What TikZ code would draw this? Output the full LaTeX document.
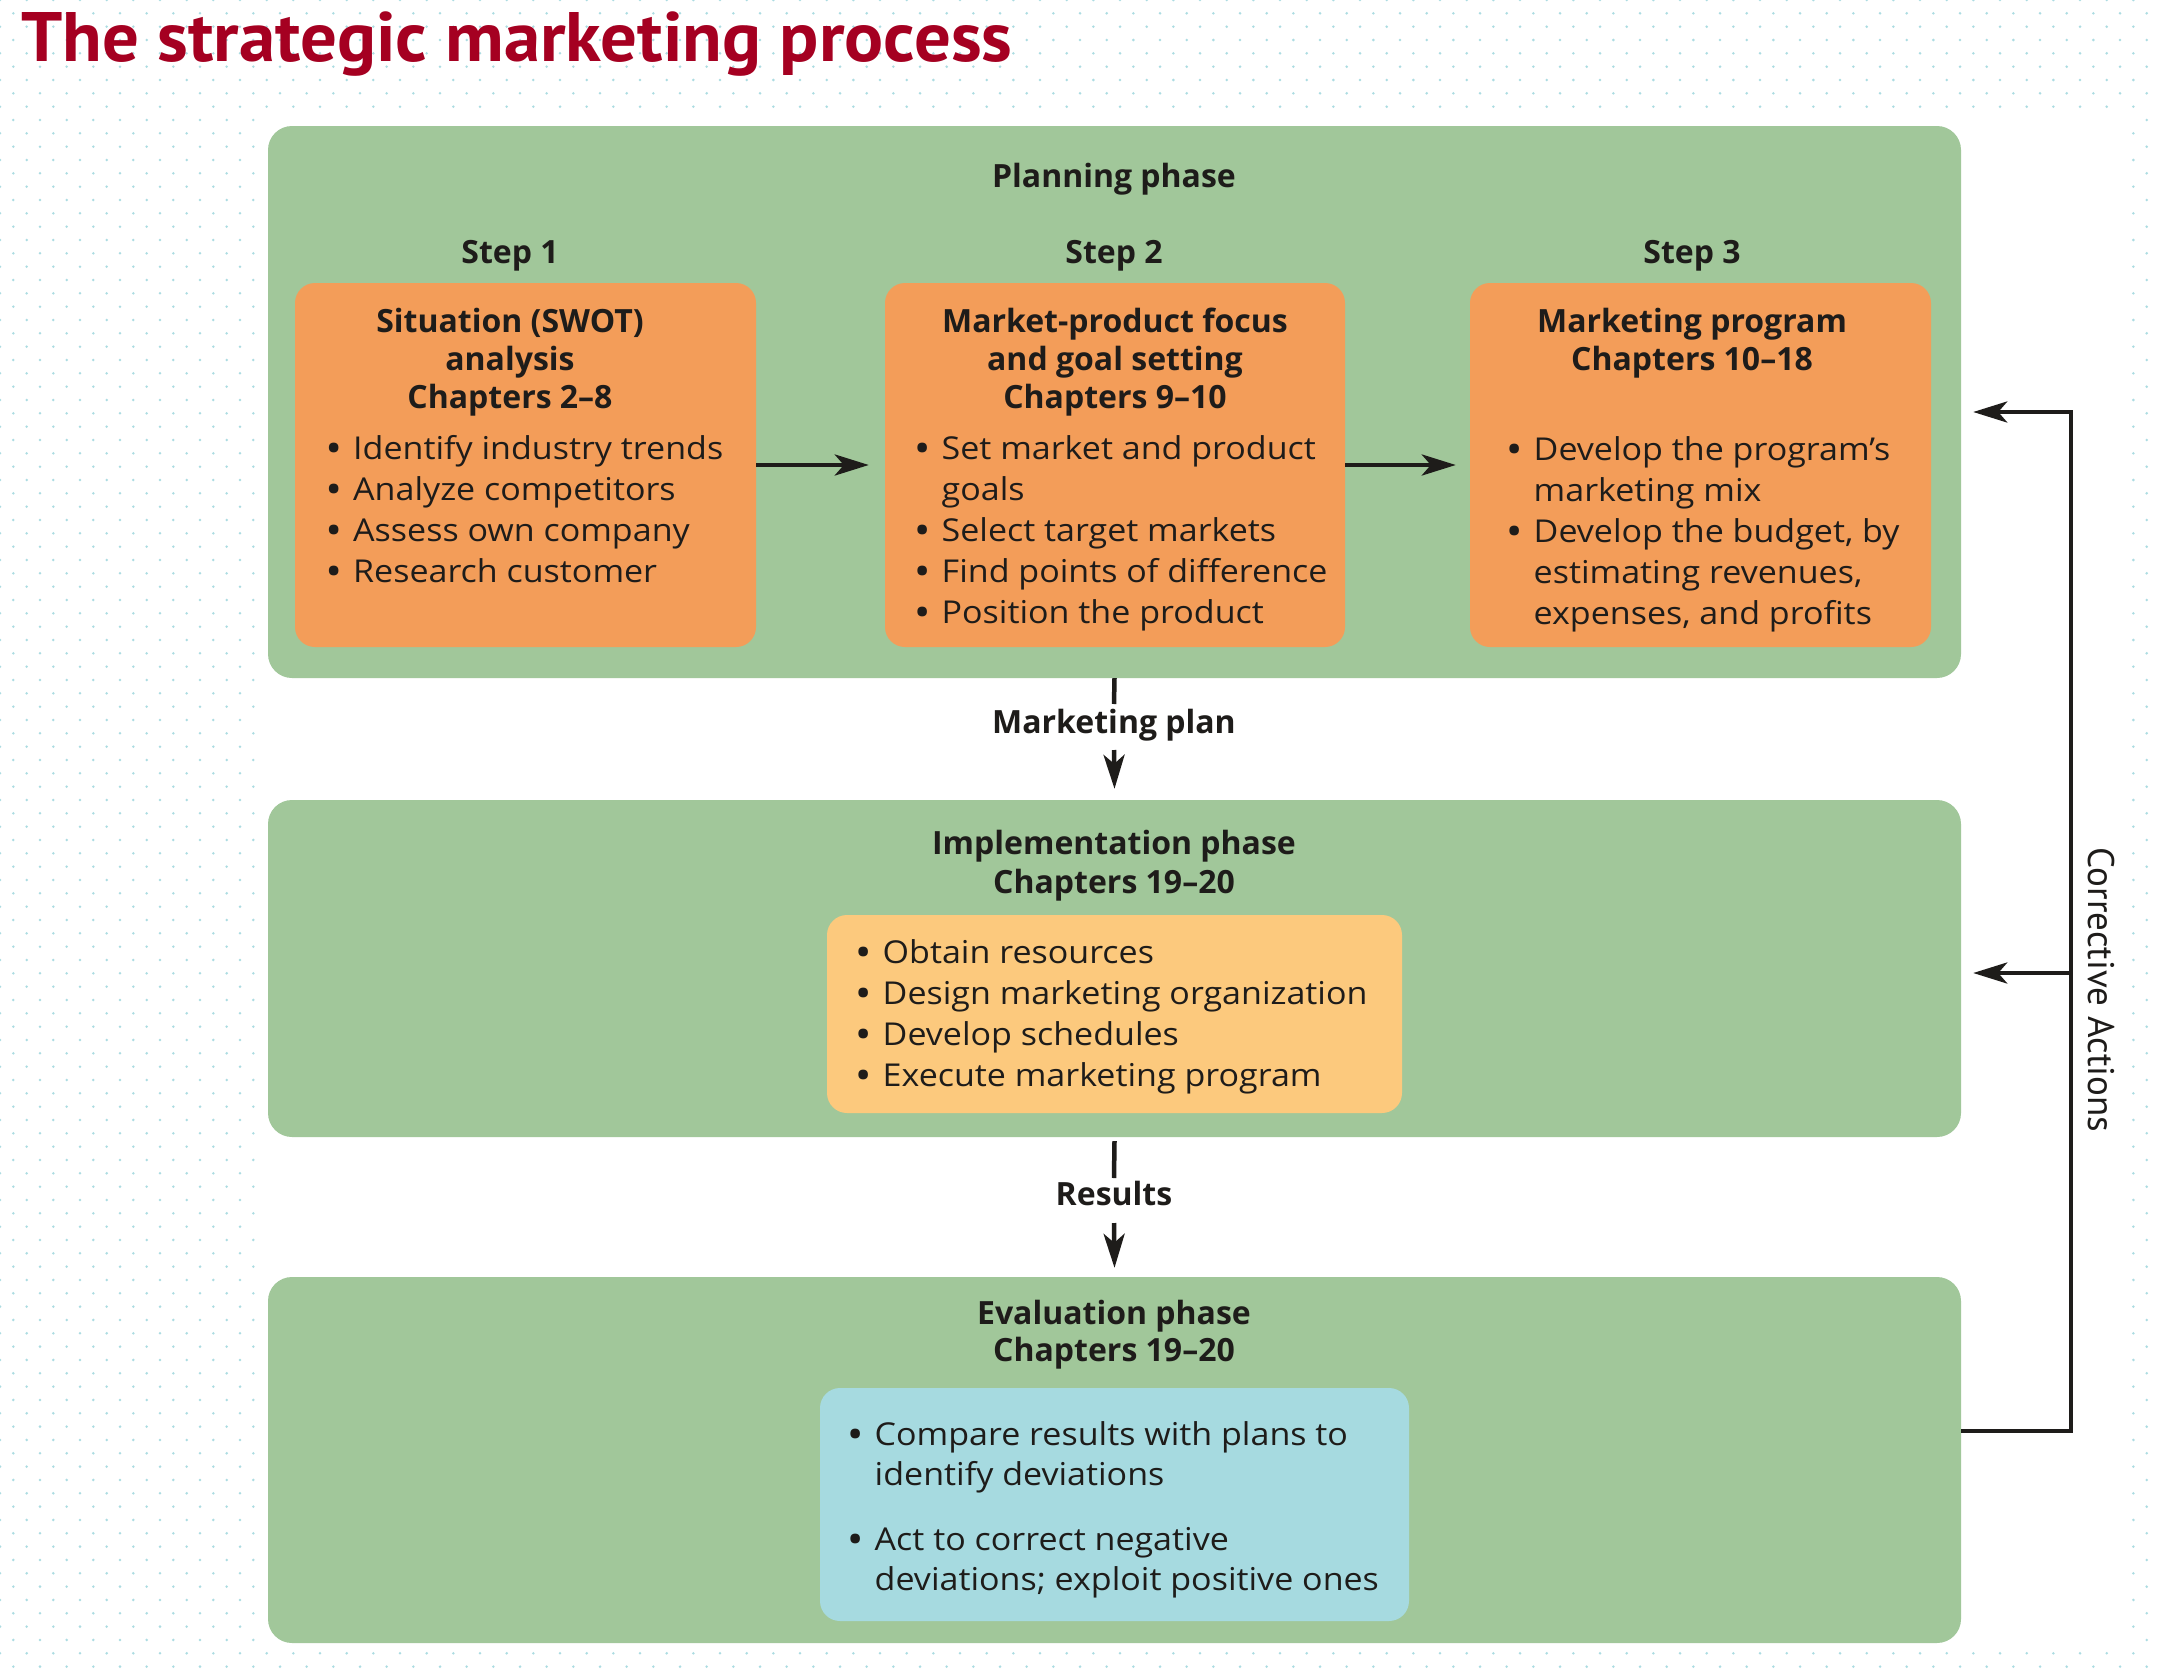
\documentclass[tikz,border=0pt]{standalone}
\usepackage{fontspec}
\usepackage{graphicx}
\usetikzlibrary{arrows.meta,calc}
\setmainfont{Open Sans}[FakeStretch=1.08]
\newfontfamily\hfont{Open Sans}
\newfontfamily\tfont{PT Sans}
\definecolor{gbox}{RGB}{161,199,154}
\definecolor{obox}{RGB}{243,157,89}
\definecolor{ybox}{RGB}{252,201,125}
\definecolor{bbox}{RGB}{166,218,224}
\definecolor{ttl}{RGB}{165,0,33}
\definecolor{ink}{RGB}{30,28,26}
\definecolor{dotc}{RGB}{172,220,226}
\newcommand\bodyf{\fontsize{31.5}{41}\selectfont}
\newcommand\headf{\hfont\bfseries\fontsize{32}{38}\selectfont}
\newcommand\bul{\makebox[39pt]{\bfseries\textbullet}}
\newcommand\hang{\hspace*{39pt}}
\tikzset{
  panel/.style={fill=gbox, rounded corners=24pt, inner sep=0pt, draw=none},
  inbox/.style={rounded corners=20pt, inner sep=0pt, draw=none},
  head/.style={anchor=base, inner sep=0pt, text=ink, font=\headf},
  body/.style={anchor=base west, inner sep=0pt, text=ink, font=\bodyf},
  conn/.style={draw=ink, line width=4.5pt, line join=miter},
  arr/.style={conn, -{Stealth[length=34pt,width=21pt,inset=9pt]}},
  dot/.style={fill=dotc}
}
\begin{document}
\begin{tikzpicture}[x=1pt,y=-1pt]
\useasboundingbox (0,0) rectangle (2160,1678);
\fill[white] (0,0) rectangle (2160,1678);
% dotted margins
\foreach \j in {0,...,8}{\foreach \i in {0,...,80}{\fill[dot] ({26.667*\i+13.333*mod(\j,2)},{13.333*\j}) circle (1.4pt);}}
\foreach \j in {124,...,126}{\foreach \i in {0,...,80}{\fill[dot] ({26.667*\i+13.333*mod(\j,2)},{13.333*\j}) circle (1.4pt);}}
\foreach \j in {9,...,123}{\foreach \i in {0,...,9,80}{\fill[dot] ({26.667*\i+13.333*mod(\j,2)},{13.333*\j}) circle (1.4pt);}}

% title
\node[anchor=base west, inner sep=0pt, text=ttl, font=\tfont\bfseries\fontsize{70}{80}\selectfont] (title) at (21,62) {\scalebox{1.04}[1]{The strategic marketing process}};

% phase panels
\node[panel, minimum width=1693pt, minimum height=552pt] (plan) at (1114.5,402) {};
\node[panel, minimum width=1693pt, minimum height=337pt] (impl) at (1114.5,968.5) {};
\node[panel, minimum width=1693pt, minimum height=366pt] (eval) at (1114.5,1460) {};

% inner boxes
\node[inbox, fill=obox, minimum width=461pt, minimum height=364pt] (o1) at (525.5,465) {};
\node[inbox, fill=obox, minimum width=460pt, minimum height=364pt] (o2) at (1115,465) {};
\node[inbox, fill=obox, minimum width=461pt, minimum height=364pt] (o3) at (1700.5,465) {};
\node[inbox, fill=ybox, minimum width=575pt, minimum height=198pt] (yel) at (1114.5,1014) {};
\node[inbox, fill=bbox, minimum width=589pt, minimum height=233pt] (blu) at (1114.5,1504.5) {};

% headings
\node[head] (ph1) at (1114,187) {Planning phase};
\node[head] (s1) at (510,263) {Step 1};
\node[head] (s2) at (1114,263) {Step 2};
\node[head] (s3) at (1692,263) {Step 3};
\node[head] (h1) at (510,332) {\begin{tabular}[t]{@{}c@{}}Situation (SWOT)\\analysis\\Chapters 2–8\end{tabular}};
\node[head] (h2) at (1115,332) {\begin{tabular}[t]{@{}c@{}}Market-product focus\\and goal setting\\Chapters 9–10\end{tabular}};
\node[head] (h3) at (1692,332) {\begin{tabular}[t]{@{}c@{}}Marketing program\\Chapters 10–18\end{tabular}};
\node[head] (mplan) at (1114,733) {Marketing plan};
\node[head, font=\hfont\bfseries\fontsize{32}{39}\selectfont] (ph2) at (1114,854) {\begin{tabular}[t]{@{}c@{}}Implementation phase\\Chapters 19–20\end{tabular}};
\node[head] (res) at (1114,1205) {Results};
\node[head, font=\hfont\bfseries\fontsize{32}{37}\selectfont] (ph3) at (1114,1324) {\begin{tabular}[t]{@{}c@{}}Evaluation phase\\Chapters 19–20\end{tabular}};

% bullet lists
\node[body] (l1) at (314,459) {\begin{tabular}[t]{@{}l@{}}\bul Identify industry trends\\\bul Analyze competitors\\\bul Assess own company\\\bul Research customer\end{tabular}};
\node[body] (l2) at (902.5,459) {\begin{tabular}[t]{@{}l@{}}\bul Set market and product\\\hang goals\\\bul Select target markets\\\bul Find points of difference\\\bul Position the product\end{tabular}};
\node[body] (l3) at (1494.5,460) {\begin{tabular}[t]{@{}l@{}}\bul Develop the program’s\\\hang marketing mix\\\bul Develop the budget, by\\\hang estimating revenues,\\\hang expenses, and profits\end{tabular}};
\node[body] (l4) at (843.5,963) {\begin{tabular}[t]{@{}l@{}}\bul Obtain resources\\\bul Design marketing organization\\\bul Develop schedules\\\bul Execute marketing program\end{tabular}};
\node[body, font=\fontsize{31.5}{40}\selectfont] (l5) at (835.5,1445) {\begin{tabular}[t]{@{}l@{}}\bul Compare results with plans to\\\hang identify deviations\\[25pt]\bul Act to correct negative\\\hang deviations; exploit positive ones\end{tabular}};

% corrective actions label
\node[rotate=-90, inner sep=0pt, text=ink, font=\tfont\fontsize{37}{40}\selectfont] (corr) at (2101,990) {Corrective Actions};

% connectors
\draw[arr] (o1.east) -- ([xshift=-16pt]o2.west);
\draw[arr] (o2.east) -- ([xshift=-14pt]o3.west);

\coordinate (mp1) at (1114,704);
\coordinate (mp2) at (1114,750);
\draw[conn] (plan.south) -- (mp1);
\draw[arr] (mp2) -- ([yshift=11pt]impl.north);

\coordinate (rs1) at (1114,1178);
\coordinate (rs2) at (1114,1223);
\draw[conn] ([yshift=-4pt]impl.south) -- (rs1);
\draw[arr] (rs2) -- ([yshift=9pt]eval.north);

\coordinate (ca) at (2071,412);
\coordinate (cb) at (2071,973);
\draw[arr] ([yshift=29pt]eval.east) -| (ca) -- ($(plan.east|-ca)+(12,0)$);
\draw[arr] (cb) -- ($(impl.east|-cb)+(12,0)$);
\end{tikzpicture}
\end{document}
